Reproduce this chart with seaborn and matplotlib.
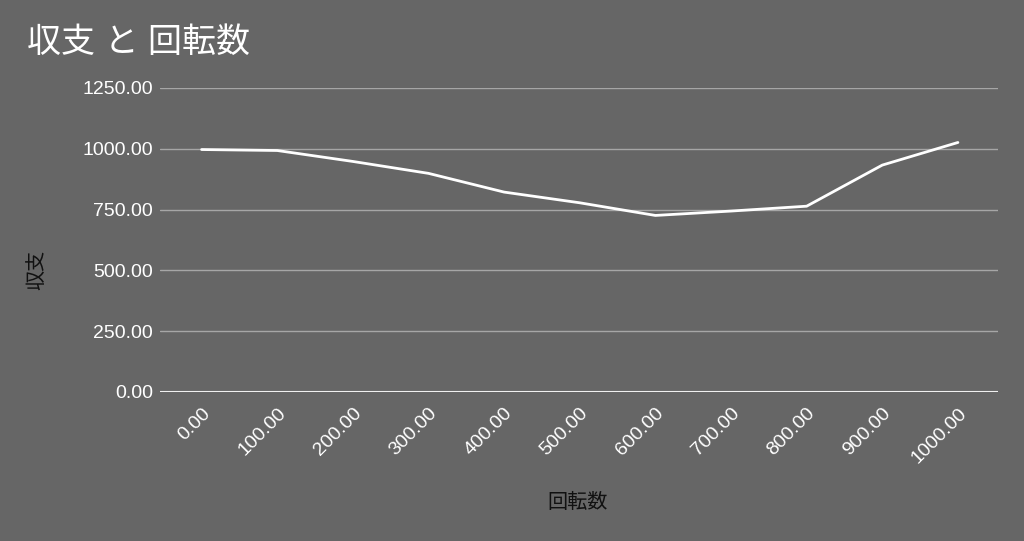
import pandas as pd
import matplotlib
matplotlib.use('Agg')
import matplotlib.pyplot as plt
import seaborn as sns

# data
spins = [0, 100, 200, 300, 400, 500, 600, 700, 800, 900, 1000]
balance = [997, 993, 948, 899, 822, 778, 726, 744, 764, 933, 1026]
y_ticks = [0, 250, 500, 750, 1000, 1250]

df = pd.DataFrame({'回転数': spins, '収支': balance})

bg = '#666666'
sns.set_theme(style='dark')
plt.rcParams['font.family'] = ['Liberation Sans', 'Noto Sans CJK JP', 'DejaVu Sans']

fig = plt.figure(figsize=(10.24, 5.41), dpi=100, facecolor=bg)
ax = fig.add_axes([160 / 1024, 1 - 392 / 541, 838 / 1024, 304 / 541])
ax.set_facecolor(bg)

for v in y_ticks[1:]:
    ax.axhline(v, color='#a6a6a6', lw=1, zorder=1)
ax.axhline(0, color='#f0f0f0', lw=1.5, zorder=1)

sns.lineplot(data=df, x='回転数', y='収支', color='white', lw=2, ax=ax, zorder=3)

ax.set_xlim(-55, 1053)
ax.set_ylim(0, 1250)
ax.set_xticks(spins)
ax.set_xticklabels([f'{v:.2f}' for v in spins], rotation=45, ha='right',
                   rotation_mode='anchor', color='white', fontsize=14)
ax.set_yticks(y_ticks)
ax.set_yticklabels([f'{v:.2f}' for v in y_ticks], color='white', fontsize=14)
ax.tick_params(length=0)
ax.tick_params(axis='x', pad=9)
ax.tick_params(axis='y', pad=5)
for s in ax.spines.values():
    s.set_visible(False)
ax.grid(False)

ax.set_xlabel('回転数', color='#111111', fontsize=14.5, labelpad=0)
ax.set_ylabel('収支', color='#111111', fontsize=14.5)
ax.xaxis.set_label_coords((578 - 160) / 838, (392 - 493) / 304)
ax.yaxis.set_label_coords((46 - 160) / 838, (392 - 270) / 304)

fig.text(27 / 1024, 1 - 43 / 541, '収支 と 回転数', color='white', fontsize=24.5,
         ha='left', va='center')

fig.savefig('out.png', dpi=100, facecolor=bg)
